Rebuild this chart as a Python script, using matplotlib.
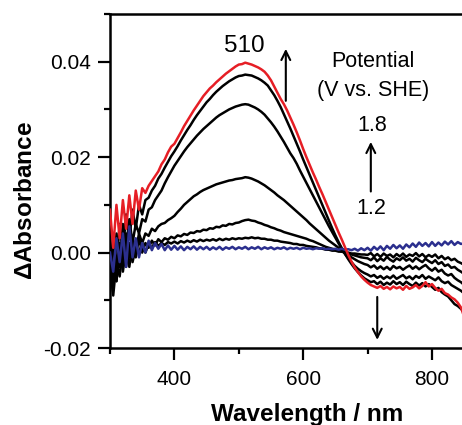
import matplotlib
matplotlib.use("Agg")
import matplotlib.pyplot as plt
from matplotlib.ticker import MultipleLocator

plt.rcParams['font.family'] = ['Liberation Sans', 'DejaVu Sans']
plt.rcParams['mathtext.fontset'] = 'custom'
plt.rcParams['mathtext.it'] = 'Liberation Sans:italic:bold'
plt.rcParams['mathtext.rm'] = 'Liberation Sans:bold'

wavelength = list(range(300, 851, 5))

red_18 = [
    0.009, 0.001, 0.010, 0.003, 0.011, 0.005, 0.012, 0.006, 0.013, 0.009,
    0.0135, 0.0125, 0.0140, 0.0150, 0.0160, 0.0170, 0.0185, 0.0195, 0.0210, 0.0222,
    0.0228, 0.0240, 0.0252, 0.0265, 0.0276, 0.0287, 0.0298, 0.0308, 0.0318, 0.0328,
    0.0336, 0.0344, 0.0350, 0.0357, 0.0363, 0.0369, 0.0375, 0.0380, 0.0385, 0.0390,
    0.0394, 0.0395, 0.0398, 0.0396, 0.0394, 0.0391, 0.0388, 0.0384, 0.0379, 0.0371,
    0.0361, 0.0348, 0.0335, 0.0322, 0.0311, 0.0298, 0.0283, 0.0268, 0.0252, 0.0235,
    0.0217, 0.0200, 0.0184, 0.0168, 0.0153, 0.0137, 0.0122, 0.0106, 0.0090, 0.0074,
    0.0058, 0.0042, 0.0027, 0.0011, -0.0005, -0.0019, -0.0031, -0.0041, -0.0050, -0.0057,
    -0.0063, -0.0068, -0.0071, -0.0074, -0.0070, -0.0076, -0.0072, -0.0077, -0.0071, -0.0075,
    -0.0072, -0.0078, -0.0070, -0.0076, -0.0073, -0.0068, -0.0075, -0.0070, -0.0062, -0.0071,
    -0.0066, -0.0074, -0.0080, -0.0076, -0.0085, -0.0088, -0.0094, -0.0098, -0.0105, -0.0115,
    -0.0135]

black_17 = [
    -0.006, 0.002, -0.003, 0.006, 0.000, 0.008, 0.003, 0.009, 0.005, 0.010,
    0.008, 0.011, 0.0115, 0.013, 0.014, 0.0155, 0.0165, 0.0178, 0.019, 0.0202,
    0.0212, 0.0223, 0.0235, 0.0246, 0.0257, 0.0267, 0.0278, 0.0288, 0.0297, 0.0306,
    0.0315, 0.0322, 0.0330, 0.0337, 0.0343, 0.0349, 0.0354, 0.0359, 0.0363, 0.0367,
    0.0370, 0.0371, 0.0373, 0.0372, 0.0371, 0.0368, 0.0365, 0.0361, 0.0356, 0.0350,
    0.0340, 0.0330, 0.0318, 0.0305, 0.0290, 0.0275, 0.0260, 0.0244, 0.0228, 0.0212,
    0.0195, 0.0179, 0.0163, 0.0147, 0.0131, 0.0115, 0.0099, 0.0083, 0.0067, 0.0051,
    0.0036, 0.0022, 0.0009, -0.0003, -0.0014, -0.0024, -0.0033, -0.0041, -0.0048, -0.0054,
    -0.0058, -0.0062, -0.0060, -0.0066, -0.0061, -0.0068, -0.0063, -0.0067, -0.0060, -0.0066,
    -0.0062, -0.0068, -0.0061, -0.0066, -0.0070, -0.0063, -0.0069, -0.0064, -0.0071, -0.0066,
    -0.0072, -0.0078, -0.0074, -0.0083, -0.0088, -0.0092, -0.0100, -0.0108, -0.0112, -0.0118,
    -0.0125]

black_16 = [
    0.002, -0.007, 0.004, -0.003, 0.006, 0.001, 0.007, 0.002, 0.006, 0.004,
    0.007, 0.0065, 0.009, 0.0095, 0.011, 0.012, 0.013, 0.0145, 0.0158, 0.017,
    0.0182, 0.0192, 0.0202, 0.0212, 0.0221, 0.0229, 0.0237, 0.0245, 0.0252, 0.0259,
    0.0265, 0.0271, 0.0277, 0.0283, 0.0288, 0.0292, 0.0296, 0.0300, 0.0303, 0.0306,
    0.0308, 0.0310, 0.0311, 0.0310, 0.0307, 0.0304, 0.0300, 0.0295, 0.0289, 0.0281,
    0.0273, 0.0264, 0.0254, 0.0243, 0.0232, 0.0220, 0.0208, 0.0198, 0.0186, 0.0172,
    0.0159, 0.0146, 0.0133, 0.0120, 0.0107, 0.0094, 0.0081, 0.0068, 0.0055, 0.0043,
    0.0031, 0.0019, 0.0008, -0.0003, -0.0012, -0.0020, -0.0028, -0.0034, -0.0039, -0.0043,
    -0.0046, -0.0050, -0.0047, -0.0053, -0.0049, -0.0055, -0.0050, -0.0054, -0.0048, -0.0055,
    -0.0051, -0.0047, -0.0054, -0.0050, -0.0056, -0.0049, -0.0053, -0.0047, -0.0055, -0.0050,
    -0.0054, -0.0058, -0.0052, -0.0060, -0.0064, -0.0061, -0.0068, -0.0072, -0.0076, -0.0080,
    -0.0086]

black_15 = [
    -0.004, 0.003, -0.006, 0.001, -0.002, 0.004, -0.001, 0.003, 0.000, 0.004,
    0.002, 0.004, 0.0035, 0.005, 0.0045, 0.0055, 0.006, 0.0062, 0.0068, 0.0072,
    0.0077, 0.0085, 0.0092, 0.0100, 0.0106, 0.0112, 0.0118, 0.0122, 0.0127, 0.0131,
    0.0134, 0.0137, 0.0140, 0.0143, 0.0145, 0.0147, 0.0149, 0.0151, 0.0152, 0.0154,
    0.0155, 0.0156, 0.0158, 0.0157, 0.0155, 0.0152, 0.0149, 0.0145, 0.0141, 0.0136,
    0.0131, 0.0126, 0.0120, 0.0115, 0.0110, 0.0104, 0.0098, 0.0092, 0.0086, 0.0080,
    0.0074, 0.0068, 0.0061, 0.0055, 0.0049, 0.0043, 0.0037, 0.0031, 0.0025, 0.0020,
    0.0015, 0.0010, 0.0005, 0.0000, -0.0005, -0.0010, -0.0014, -0.0018, -0.0021, -0.0024,
    -0.0026, -0.0031, -0.0027, -0.0034, -0.0029, -0.0035, -0.0030, -0.0036, -0.0028, -0.0033,
    -0.0030, -0.0036, -0.0031, -0.0027, -0.0034, -0.0029, -0.0035, -0.0030, -0.0026, -0.0033,
    -0.0038, -0.0032, -0.0040, -0.0036, -0.0044, -0.0048, -0.0045, -0.0053, -0.0058, -0.0062,
    -0.0068]

black_14 = [
    -0.008, -0.002, -0.006, 0.002, -0.004, 0.001, -0.003, 0.002, -0.001, 0.003,
    0.000, 0.002, 0.001, 0.0025, 0.0015, 0.0028, 0.0022, 0.0030, 0.0027, 0.0033,
    0.0030, 0.0036, 0.0034, 0.0039, 0.0037, 0.0042, 0.0041, 0.0045, 0.0044, 0.0048,
    0.0047, 0.0051, 0.0050, 0.0054, 0.0053, 0.0057, 0.0056, 0.0060, 0.0059, 0.0062,
    0.0063, 0.0066, 0.0068, 0.0069, 0.0067, 0.0066, 0.0063, 0.0061, 0.0058, 0.0056,
    0.0053, 0.0051, 0.0048, 0.0046, 0.0043, 0.0041, 0.0039, 0.0037, 0.0035, 0.0033,
    0.0031, 0.0029, 0.0026, 0.0024, 0.0021, 0.0018, 0.0015, 0.0012, 0.0010, 0.0008,
    0.0006, 0.0004, 0.0002, 0.0000, -0.0002, -0.0004, -0.0006, -0.0008, -0.0010, -0.0011,
    -0.0012, -0.0016, -0.0010, -0.0018, -0.0012, -0.0017, -0.0009, -0.0015, -0.0019, -0.0012,
    -0.0016, -0.0010, -0.0017, -0.0013, -0.0019, -0.0011, -0.0016, -0.0020, -0.0013, -0.0018,
    -0.0022, -0.0016, -0.0024, -0.0020, -0.0028, -0.0025, -0.0032, -0.0030, -0.0036, -0.0040,
    -0.0045]

black_13 = [
    -0.003, -0.009, -0.002, -0.005, 0.001, -0.003, 0.002, -0.002, 0.001, 0.000,
    0.002, 0.000, 0.0018, 0.001, 0.0022, 0.0014, 0.0020, 0.0016, 0.0022, 0.0019,
    0.0023, 0.0019, 0.0024, 0.0021, 0.0025, 0.0022, 0.0026, 0.0023, 0.0027, 0.0024,
    0.0027, 0.0025, 0.0028, 0.0025, 0.0029, 0.0026, 0.0029, 0.0027, 0.0030, 0.0028,
    0.0030, 0.0029, 0.0031, 0.0030, 0.0032, 0.0030, 0.0031, 0.0029, 0.0029, 0.0027,
    0.0027, 0.0025, 0.0025, 0.0023, 0.0022, 0.0021, 0.0020, 0.0018, 0.0018, 0.0016,
    0.0016, 0.0014, 0.0013, 0.0012, 0.0011, 0.0009, 0.0008, 0.0006, 0.0006, 0.0004,
    0.0004, 0.0002, 0.0002, 0.0000, 0.0000, -0.0002, -0.0002, -0.0003, -0.0004, -0.0004,
    -0.0005, -0.0001, -0.0008, -0.0003, -0.0009, -0.0002, -0.0007, -0.0004, -0.0010, -0.0003,
    -0.0008, -0.0002, -0.0009, -0.0004, -0.0007, -0.0001, -0.0008, -0.0003, -0.0010, -0.0005,
    -0.0009, -0.0004, -0.0012, -0.0007, -0.0014, -0.0010, -0.0016, -0.0013, -0.0019, -0.0022,
    -0.0026]

blue_12 = [
    0.000, -0.004, 0.003, -0.002, 0.004, -0.003, 0.0055, -0.001, 0.003, -0.001,
    0.002, 0.000, 0.0025, 0.0005, 0.002, 0.0008, 0.0018, 0.0005, 0.0015, 0.0006,
    0.0014, 0.0006, 0.0013, 0.0005, 0.0012, 0.0007, 0.0013, 0.0006, 0.0012, 0.0007,
    0.0012, 0.0006, 0.0011, 0.0007, 0.0012, 0.0006, 0.0011, 0.0008, 0.0012, 0.0007,
    0.0011, 0.0008, 0.0012, 0.0007, 0.0011, 0.0008, 0.0012, 0.0007, 0.0011, 0.0008,
    0.0011, 0.0007, 0.0010, 0.0008, 0.0011, 0.0007, 0.0010, 0.0008, 0.0010, 0.0007,
    0.0010, 0.0008, 0.0009, 0.0007, 0.0009, 0.0008, 0.0009, 0.0007, 0.0008, 0.0007,
    0.0008, 0.0006, 0.0008, 0.0006, 0.0007, 0.0005, 0.0008, 0.0004, 0.0009, 0.0005,
    0.0010, 0.0004, 0.0012, 0.0006, 0.0013, 0.0005, 0.0014, 0.0008, 0.0016, 0.0009,
    0.0015, 0.0008, 0.0017, 0.0011, 0.0019, 0.0012, 0.0021, 0.0014, 0.0020, 0.0013,
    0.0022, 0.0014, 0.0021, 0.0015, 0.0023, 0.0017, 0.0024, 0.0016, 0.0022, 0.0018,
    0.0020]

black_series = [black_17, black_16, black_15, black_14, black_13]

RED = '#e61e25'
BLUE = '#2b2f8e'

fig = plt.figure(figsize=(4.62, 4.25), dpi=100)
ax = fig.add_axes([110/462, 1 - 348/425, 352/462, (348 - 14)/425])

for s in black_series:
    ax.plot(wavelength, s, color='black', lw=1.8, zorder=2)
ax.plot(wavelength, blue_12, color=BLUE, lw=1.8, zorder=3)
ax.plot(wavelength, red_18, color=RED, lw=1.8, zorder=4)

ax.set_xlim(300, 846.6)
ax.set_ylim(-0.02, 0.05)
ax.xaxis.set_major_locator(MultipleLocator(200))
ax.xaxis.set_minor_locator(MultipleLocator(100))
ax.yaxis.set_major_locator(MultipleLocator(0.02))
ax.yaxis.set_minor_locator(MultipleLocator(0.01))
ax.yaxis.set_major_formatter(plt.FormatStrFormatter('%.2f'))

ax.spines['right'].set_visible(False)
for sp in ['left', 'bottom', 'top']:
    ax.spines[sp].set_linewidth(1.8)
ax.tick_params(which='major', direction='out', length=8.5, width=1.6,
               labelsize=15, pad=5)
ax.tick_params(which='minor', direction='out', length=4.5, width=1.6)
ax.tick_params(axis='x', which='major', pad=7)
ax.tick_params(top=False, right=False, which='both')

ax.set_xlabel('Wavelength / nm', fontsize=17.5, fontweight='bold')
ax.xaxis.set_label_coords(0.561, -0.1647)
ax.set_ylabel(r'$\mathit{\Delta}$Absorbance', fontsize=17.5, fontweight='bold')
ax.yaxis.set_label_coords(-0.207, 0.44)

ax.text(508, 0.0421, '510', fontsize=17.5, ha='center', va='baseline')
ax.text(708, 0.0389, 'Potential', fontsize=15.5, ha='center', va='baseline')
ax.text(708, 0.0328, '(V vs. SHE)', fontsize=15.5, ha='center', va='baseline')
ax.text(708, 0.0255, '1.8', fontsize=15.5, ha='center', va='baseline')
ax.text(706, 0.0080, '1.2', fontsize=15.5, ha='center', va='baseline')

arrow = dict(arrowstyle='->', lw=1.5, color='black', mutation_scale=16,
             shrinkA=0, shrinkB=0)
ax.annotate('', xy=(573, 0.0427), xytext=(573, 0.0318), arrowprops=arrow)
ax.annotate('', xy=(705, 0.0232), xytext=(705, 0.0128), arrowprops=arrow)
ax.annotate('', xy=(715, -0.0183), xytext=(715, -0.0093), arrowprops=arrow)

fig.savefig('out.png', dpi=100)
